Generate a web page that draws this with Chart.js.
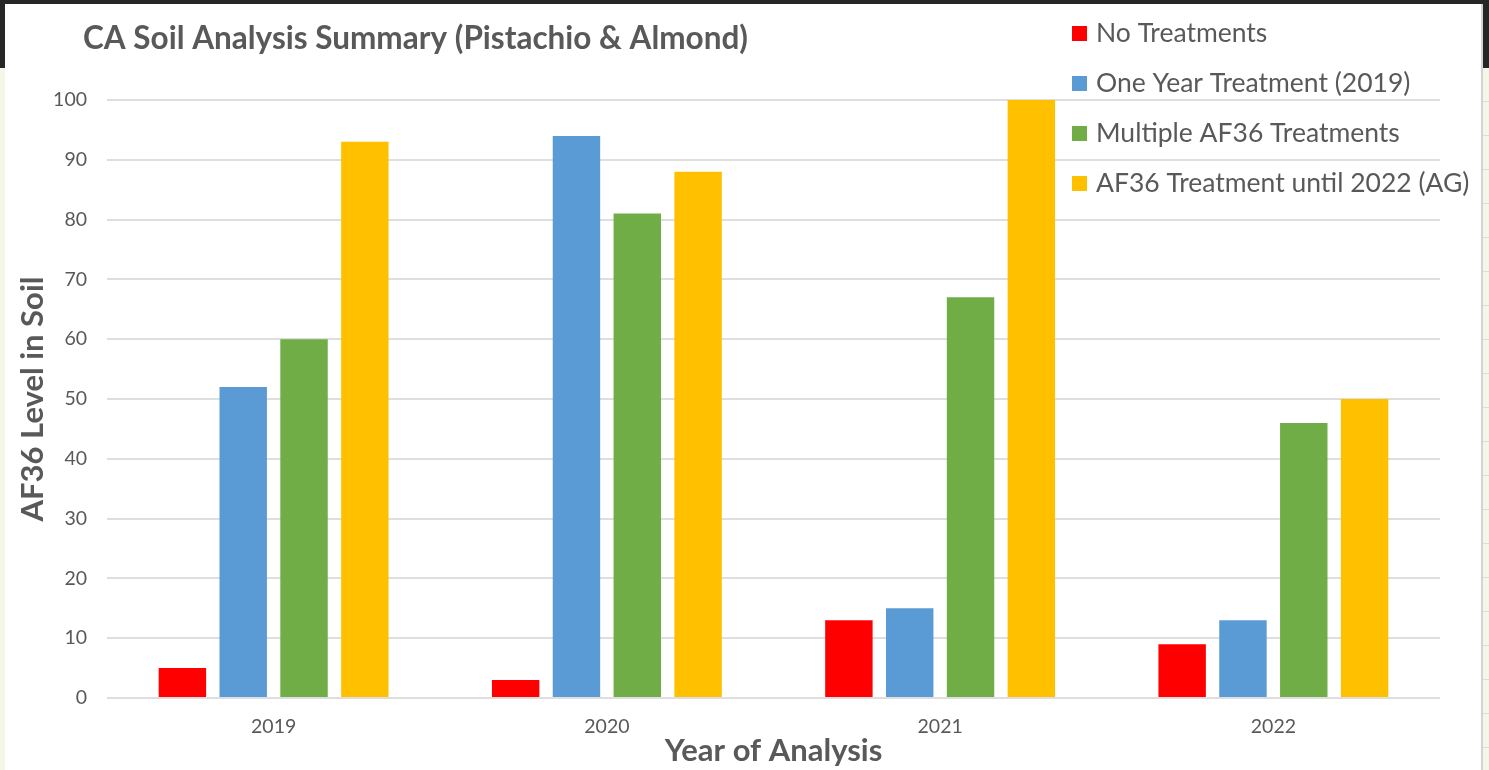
<!DOCTYPE html>
<html>
<head>
<meta charset="utf-8">
<script src="https://cdn.jsdelivr.net/npm/chart.js@4/dist/chart.umd.min.js"></script>
<style>
    html, body { margin: 0; padding: 0; }
    body { width: 1489px; height: 770px; background: #f6f6e8; position: relative; overflow: hidden; }
    #topBand { position: absolute; left: 0; top: 0; width: 1489px; height: 68px; background: #262626; }
    #panel { position: absolute; left: 5px; top: 4px; width: 1476px; height: 766px; background: #ffffff; border-right: 2px solid #d4d4d4; }
    #rightTicks { position: absolute; left: 1483px; top: 68px; width: 6px; height: 702px;
        background: repeating-linear-gradient(to bottom, transparent 0 33px, #dcdcdc 33px 34px); }
    #chartBox { position: absolute; left: 0; top: 0; width: 1489px; height: 770px; }
</style>
</head>
<body>
<div id="topBand"></div>
<div id="panel"></div>
<div id="rightTicks"></div>
<div id="chartBox"><canvas id="soilChart"></canvas></div>
<script>
// Dữ liệu biểu đồ
const years = ['2019', '2020', '2021', '2022'];
const seriesNames = ['No Treatments', 'One Year Treatment (2019)', 'Multiple AF36 Treatments', 'AF36 Treatment until 2022 (AG)'];
const noTreatments = [5, 3, 13, 9];
const oneYearTreatment = [52, 94, 15, 13];
const multipleTreatments = [60, 81, 67, 46];
const untilTreatment = [93, 88, 100, 50];
const yTicks = [0, 10, 20, 30, 40, 50, 60, 70, 80, 90, 100];

const seriesColors = ['#ff0000', '#5b9bd5', '#70ad47', '#ffc000'];
const textColor = '#595959';
const fontName = 'Lato, "Open Sans", sans-serif';

// Vẽ tiêu đề và chú thích
const titleLegendPlugin = {
    id: 'titleLegend',
    afterDraw(chart) {
        const ctx = chart.ctx;
        ctx.save();
        ctx.fillStyle = textColor;
        ctx.textBaseline = 'middle';
        ctx.textAlign = 'left';
        ctx.font = 'bold 31.5px ' + fontName;
        ctx.fillText('CA Soil Analysis Summary (Pistachio & Almond)', 83, 39);

        ctx.font = '26.5px ' + fontName;
        chart.data.datasets.forEach((ds, i) => {
            const y = 33 + i * 50;
            ctx.fillStyle = ds.backgroundColor;
            ctx.fillRect(1072, y - 7, 15, 15);
            ctx.fillStyle = textColor;
            ctx.fillText(ds.label, 1096, y);
        });
        ctx.restore();
    }
};

const dataLists = [noTreatments, oneYearTreatment, multipleTreatments, untilTreatment];

new Chart(document.getElementById('soilChart'), {
    type: 'bar',
    data: {
        labels: years,
        datasets: seriesNames.map((name, i) => ({
            label: name,
            data: dataLists[i],
            backgroundColor: seriesColors[i],
            borderColor: seriesColors[i],
            borderWidth: 0,
            categoryPercentage: 0.73,
            barPercentage: 0.78
        }))
    },
    options: {
        responsive: true,
        maintainAspectRatio: false,
        animation: false,
        layout: { padding: { top: 100, right: 49, bottom: 0, left: 0 } },
        plugins: {
            legend: { display: false },
            tooltip: { enabled: false }
        },
        scales: {
            x: {
                grid: { display: false },
                border: { display: false },
                ticks: { color: textColor, font: { family: fontName, size: 19.5 }, padding: 9 },
                title: {
                    display: true,
                    text: 'Year of Analysis',
                    color: textColor,
                    font: { family: fontName, size: 31, weight: 'bold' },
                    padding: { top: 3, bottom: 0 }
                },
                afterFit(scale) { scale.height = 72; }
            },
            y: {
                min: 0,
                max: 100,
                afterBuildTicks(scale) { scale.ticks = yTicks.map(v => ({ value: v })); },
                grid: { color: '#dedede', lineWidth: 2, drawTicks: false },
                border: { display: false },
                ticks: { color: textColor, font: { family: fontName, size: 19.5 }, padding: 20 },
                title: {
                    display: true,
                    text: 'AF36 Level in Soil',
                    color: textColor,
                    font: { family: fontName, size: 31, weight: 'bold' },
                    padding: { top: 14, bottom: 0 }
                },
                afterFit(scale) { scale.width = 107; }
            }
        }
    },
    plugins: [titleLegendPlugin]
});
</script>
</body>
</html>
